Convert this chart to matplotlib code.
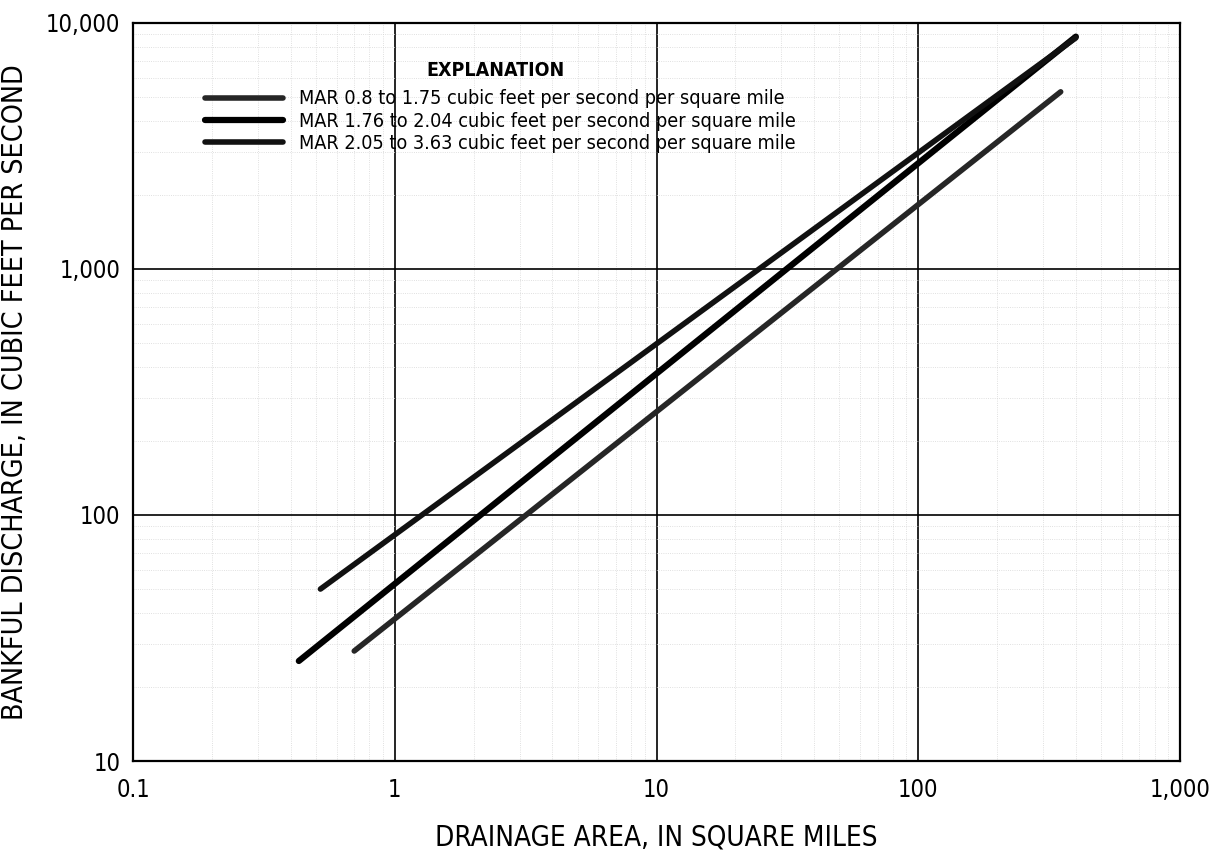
import matplotlib.pyplot as plt
import numpy as np

plt.rcParams['font.family'] = ['DejaVu Sans']
plt.rcParams['font.stretch'] = 'condensed'

# end points of the regression lines
area_low = [0.70, 350]      # MAR 0.8 to 1.75
q_low = [28, 5250]
area_mid = [0.43, 400]      # MAR 1.76 to 2.04
q_mid = [25.5, 8800]
area_high = [0.52, 400]     # MAR 2.05 to 3.63
q_high = [50, 8700]

labels = ['MAR 0.8 to 1.75 cubic feet per second per square mile',
          'MAR 1.76 to 2.04 cubic feet per second per square mile',
          'MAR 2.05 to 3.63 cubic feet per second per square mile']

x_ticks = [0.1, 1, 10, 100, 1000]
x_ticklabels = ['0.1', '1', '10', '100', '1,000']
y_ticks = [10, 100, 1000, 10000]
y_ticklabels = ['10', '100', '1,000', '10,000']

fig = plt.figure(figsize=(12.16, 8.57), dpi=100)
ax = fig.add_axes([0.1094, 0.112, 0.8610, 0.8612])

ax.plot(area_low, q_low, color='#262626', lw=4, solid_capstyle='round', label=labels[0])
ax.plot(area_mid, q_mid, color='black', lw=4.5, solid_capstyle='round', label=labels[1])
ax.plot(area_high, q_high, color='#111111', lw=4, solid_capstyle='round', label=labels[2])

ax.set_xscale('log')
ax.set_yscale('log')
ax.set_xlim(0.1, 1000)
ax.set_ylim(10, 10000)

ax.set_xticks(x_ticks)
ax.set_xticklabels(x_ticklabels)
ax.set_yticks(y_ticks)
ax.set_yticklabels(y_ticklabels)
ax.tick_params(which='both', length=0, labelsize=17)
ax.tick_params(axis='x', pad=12)
ax.tick_params(axis='y', pad=9)

ax.grid(which='major', color='black', lw=1.2)
ax.grid(which='minor', color='#d6d6d6', lw=0.6, linestyle=':')
ax.set_axisbelow(True)
for s in ax.spines.values():
    s.set_linewidth(1.6)

ax.set_xlabel('DRAINAGE AREA, IN SQUARE MILES', fontsize=20, labelpad=16)
ax.set_ylabel('BANKFUL DISCHARGE, IN CUBIC FEET PER SECOND', fontsize=20.5, labelpad=12)

# legend box, with its heading set a little above the rows
ax.text(0.346, 0.936, 'EXPLANATION', transform=ax.transAxes, ha='center', va='center',
        fontsize=14, fontweight='bold')
leg = ax.legend(loc='upper left', bbox_to_anchor=(0.0514, 0.934), frameon=False,
                fontsize=14.2, handlelength=4.0, handletextpad=0.8, labelspacing=0.17)

fig.savefig('out.png', dpi=100)
